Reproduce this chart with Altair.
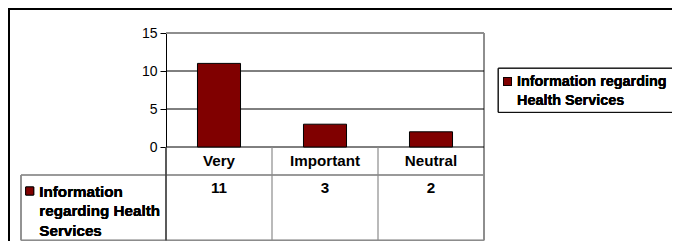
import altair as alt
import pandas as pd

categories = ["Very", "Important", "Neutral"]
values = [11, 3, 2]
series_name = "Information regarding Health Services"
table_key_lines = ["Information", "regarding Health", "Services"]
legend_lines = ["Information regarding", "Health Services"]
y_ticks = [0, 5, 10, 15]
grid_values = [0, 5, 10]

BAR = "#800000"
GRAY = "#8c8c8c"
FONT = "Liberation Sans"
FS = 15.2

W, H = 318, 114

df = pd.DataFrame({"Category": categories, "Value": values, "col": categories})
grid_df = pd.DataFrame({"g": grid_values})

yscale = alt.Scale(domain=[0, 15], nice=False, zero=True)
xband = alt.Scale(domain=categories, paddingInner=0.594, paddingOuter=0.297)
xcol = alt.Scale(domain=categories, paddingInner=0, paddingOuter=0)

yaxis = alt.Axis(values=y_ticks, grid=False, title=None, tickSize=6,
                 tickColor="black", domainColor="black", labelColor="black",
                 labelFont=FONT, labelFontSize=14, labelPadding=3,
                 labelOverlap=False, labelFlush=False, labelBound=False,
                 domainWidth=1, tickWidth=1)

# bars with y axis
bars = alt.Chart(df).mark_bar(color=BAR, stroke="black", strokeWidth=1).encode(
    x=alt.X("Category:N", scale=xband, axis=None, sort=categories),
    y=alt.Y("Value:Q", scale=yscale, axis=yaxis),
)

grid = alt.Chart(grid_df).mark_rule(color="black", strokeWidth=1).encode(
    y=alt.Y("g:Q", scale=yscale, axis=yaxis), x=alt.value(0), x2=alt.value(W)
)

# plot area border (top/right gray)
border_top = alt.Chart(df).mark_rule(color=GRAY, strokeWidth=1.5).encode(
    x=alt.value(0), x2=alt.value(W), y=alt.value(0)
)

# data table
TB = 207.3
col_enc = alt.X("col:N", scale=xcol, axis=None, sort=categories)
header = alt.Chart(df).mark_text(font=FONT, fontSize=FS, fontWeight="bold",
                                 baseline="alphabetic", color="black").encode(
    x=col_enc, y=alt.value(133), text="col:N"
)
vals = alt.Chart(df).mark_text(font=FONT, fontSize=FS, fontWeight="bold",
                               baseline="alphabetic", color="black").encode(
    x=col_enc, y=alt.value(160), text="Value:Q"
)
dividers = alt.Chart(df[df["col"] != categories[0]]).mark_rule(color=GRAY, strokeWidth=1.2).encode(
    x=alt.X("col:N", scale=xcol, axis=None, sort=categories, bandPosition=0),
    y=alt.value(H), y2=alt.value(TB),
)
hlines = alt.Chart(df).mark_rule(color=GRAY, strokeWidth=1.2).encode(
    x=alt.value(-145), x2=alt.value(W), y=alt.value(142)
)
hlines2 = alt.Chart(df).mark_rule(color=GRAY, strokeWidth=1.2).encode(
    x=alt.value(-145), x2=alt.value(W), y=alt.value(TB)
)
vleft = alt.Chart(df).mark_rule(color=GRAY, strokeWidth=1.2).encode(
    x=alt.value(-145), y=alt.value(142), y2=alt.value(TB)
)
vaxis_ext = alt.Chart(df).mark_rule(color="#444444", strokeWidth=1).encode(
    x=alt.value(0), y=alt.value(H), y2=alt.value(TB)
)
vright = alt.Chart(df).mark_rule(color=GRAY, strokeWidth=1.5).encode(
    x=alt.value(W), y=alt.value(0), y2=alt.value(TB)
)
key_sw = alt.Chart(df).mark_square(size=64, color=BAR, stroke="black", strokeWidth=0.8,
                                   opacity=1, filled=True).encode(
    x=alt.value(-136.3), y=alt.value(158)
)
key_txt = alt.Chart(df).mark_text(font=FONT, fontSize=FS, fontWeight="bold", align="left",
                                  baseline="alphabetic", lineHeight=19.5, color="black").encode(
    x=alt.value(-126.7), y=alt.value(163.7), text=alt.value(table_key_lines)
)

# legend box
leg_box = alt.Chart(df).mark_rect(fill="white", stroke="black", strokeWidth=1).encode(
    x=alt.value(332.3), x2=alt.value(515), y=alt.value(35.3), y2=alt.value(79.3)
)
leg_sw = alt.Chart(df).mark_square(size=64, color=BAR, stroke="black", strokeWidth=0.8,
                                   opacity=1, filled=True).encode(
    x=alt.value(341.5), y=alt.value(48.5)
)
leg_txt = alt.Chart(df).mark_text(font=FONT, fontSize=14.4, fontWeight="bold", align="left",
                                  baseline="alphabetic", lineHeight=19, color="black").encode(
    x=alt.value(351.0), y=alt.value(53), text=alt.value(legend_lines)
)

# outer frame
frame_top = alt.Chart(df).mark_rule(color="black", strokeWidth=2).encode(
    x=alt.value(-158), x2=alt.value(515), y=alt.value(-24)
)
frame_left = alt.Chart(df).mark_rule(color="black", strokeWidth=2).encode(
    x=alt.value(-157), y=alt.value(-25), y2=alt.value(212)
)

chart = alt.layer(
    frame_top, frame_left, leg_box, leg_sw, leg_txt,
    border_top, vright, grid, bars,
    hlines, hlines2, vleft, vaxis_ext, dividers, header, vals, key_sw, key_txt,
).resolve_scale(x="independent").properties(
    width=W, height=H,
    autosize=alt.AutoSizeParams(type="none"),
    padding={"left": 158, "top": 25, "right": 188, "bottom": 94},
).configure_view(stroke=None)

chart.save("out.html", embed_options={"renderer": "svg", "actions": False})
